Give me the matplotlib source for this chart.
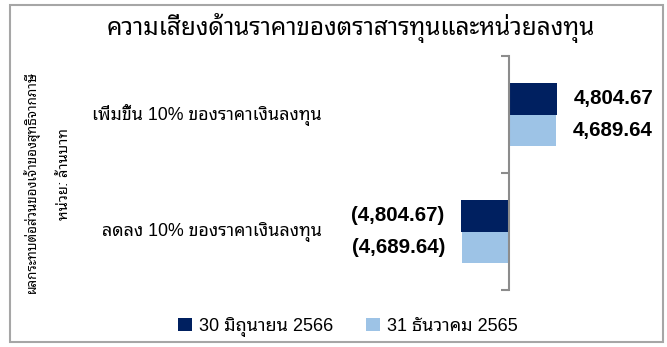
import matplotlib
matplotlib.use("Agg")
import matplotlib.pyplot as plt
from matplotlib.patches import Rectangle
from matplotlib.transforms import blended_transform_factory

plt.rcParams['font.family'] = ['Liberation Sans', 'Noto Sans Thai Looped', 'DejaVu Sans']

title = "ความเสี่ยงด้านราคาของตราสารทุนและหน่วยลงทุน"
categories = ["เพิ่มขึ้น 10% ของราคาเงินลงทุน", "ลดลง 10% ของราคาเงินลงทุน"]
series_names = ["30 มิถุนายน 2566", "31 ธันวาคม 2565"]
values_jun66 = [4804.67, -4804.67]
values_dec65 = [4689.64, -4689.64]
ylabel = "ผลกระทบต่อส่วนของเจ้าของสุทธิจากภาษี"
unit_label = "หน่วย: ล้านบาท"

colors = ["#002060", "#9DC3E6"]
W, H = 667, 347
fig = plt.figure(figsize=(W / 100, H / 100), dpi=100)

# outer frame
fig.patches.append(Rectangle((10 / W, 1 - 342 / H), (663 - 10) / W, (342 - 5) / H,
                             transform=fig.transFigure, fill=False,
                             edgecolor="#A6A6A6", linewidth=1.5))

ax = fig.add_axes([330 / W, 1 - 290 / H, (655 - 330) / W, (290 - 56) / H])
ax.set_xlim(-17900, 14600)
ax.set_ylim(1.5, -0.5)

h = 0.265
ypos = list(range(len(categories)))
b1 = ax.barh([y - h / 2 for y in ypos], values_jun66, height=h, color=colors[0], label=series_names[0])
b2 = ax.barh([y + h / 2 for y in ypos], values_dec65, height=h, color=colors[1], label=series_names[1])

def fmt(v):
    s = f"{abs(v):,.2f}"
    return f"({s})" if v < 0 else s

for vals, off in ((values_jun66, -h / 2), (values_dec65, h / 2)):
    for y, v in zip(ypos, vals):
        ax.annotate(fmt(v), xy=(v, y + off), xytext=(17 if v > 0 else -17, 0),
                    textcoords="offset pixels", ha="left" if v > 0 else "right",
                    va="center", fontsize=14.8, fontweight="bold", color="black")

for s in ("top", "right", "bottom"):
    ax.spines[s].set_visible(False)
ax.spines["left"].set_position(("data", 0))
ax.spines["left"].set_color("#8C8C8C")
ax.spines["left"].set_linewidth(1.5)
ax.set_xticks([])
ax.set_yticks([-0.5, 0.5, 1.5])
ax.set_yticklabels([])
ax.tick_params(axis="y", direction="out", length=5.5, width=1.5, color="#8C8C8C")

tr = blended_transform_factory(ax.transAxes, ax.transData)
for y, c in zip(ypos, categories):
    ax.text(-0.025, y, c, transform=tr, ha="right", va="center", fontsize=12.8, color="black")

fig.text(351 / W, 1 - 28 / H, title, ha="center", va="center", fontsize=17.5, fontweight="bold")
fig.text(31 / W, 1 - 182 / H, ylabel, ha="center", va="center", rotation=90, fontsize=9.6, fontweight="bold")
fig.text(64 / W, 1 - 174 / H, unit_label, ha="center", va="center", rotation=90, fontsize=10.5, style="italic")

fig.legend(handles=[b1, b2], labels=series_names, loc="center", bbox_to_anchor=(348 / W, 1 - 327 / H),
           ncol=2, frameon=False, fontsize=13, handlelength=0.75, handleheight=0.75,
           handletextpad=0.4, columnspacing=1.8)

fig.savefig("out.png", dpi=100)
